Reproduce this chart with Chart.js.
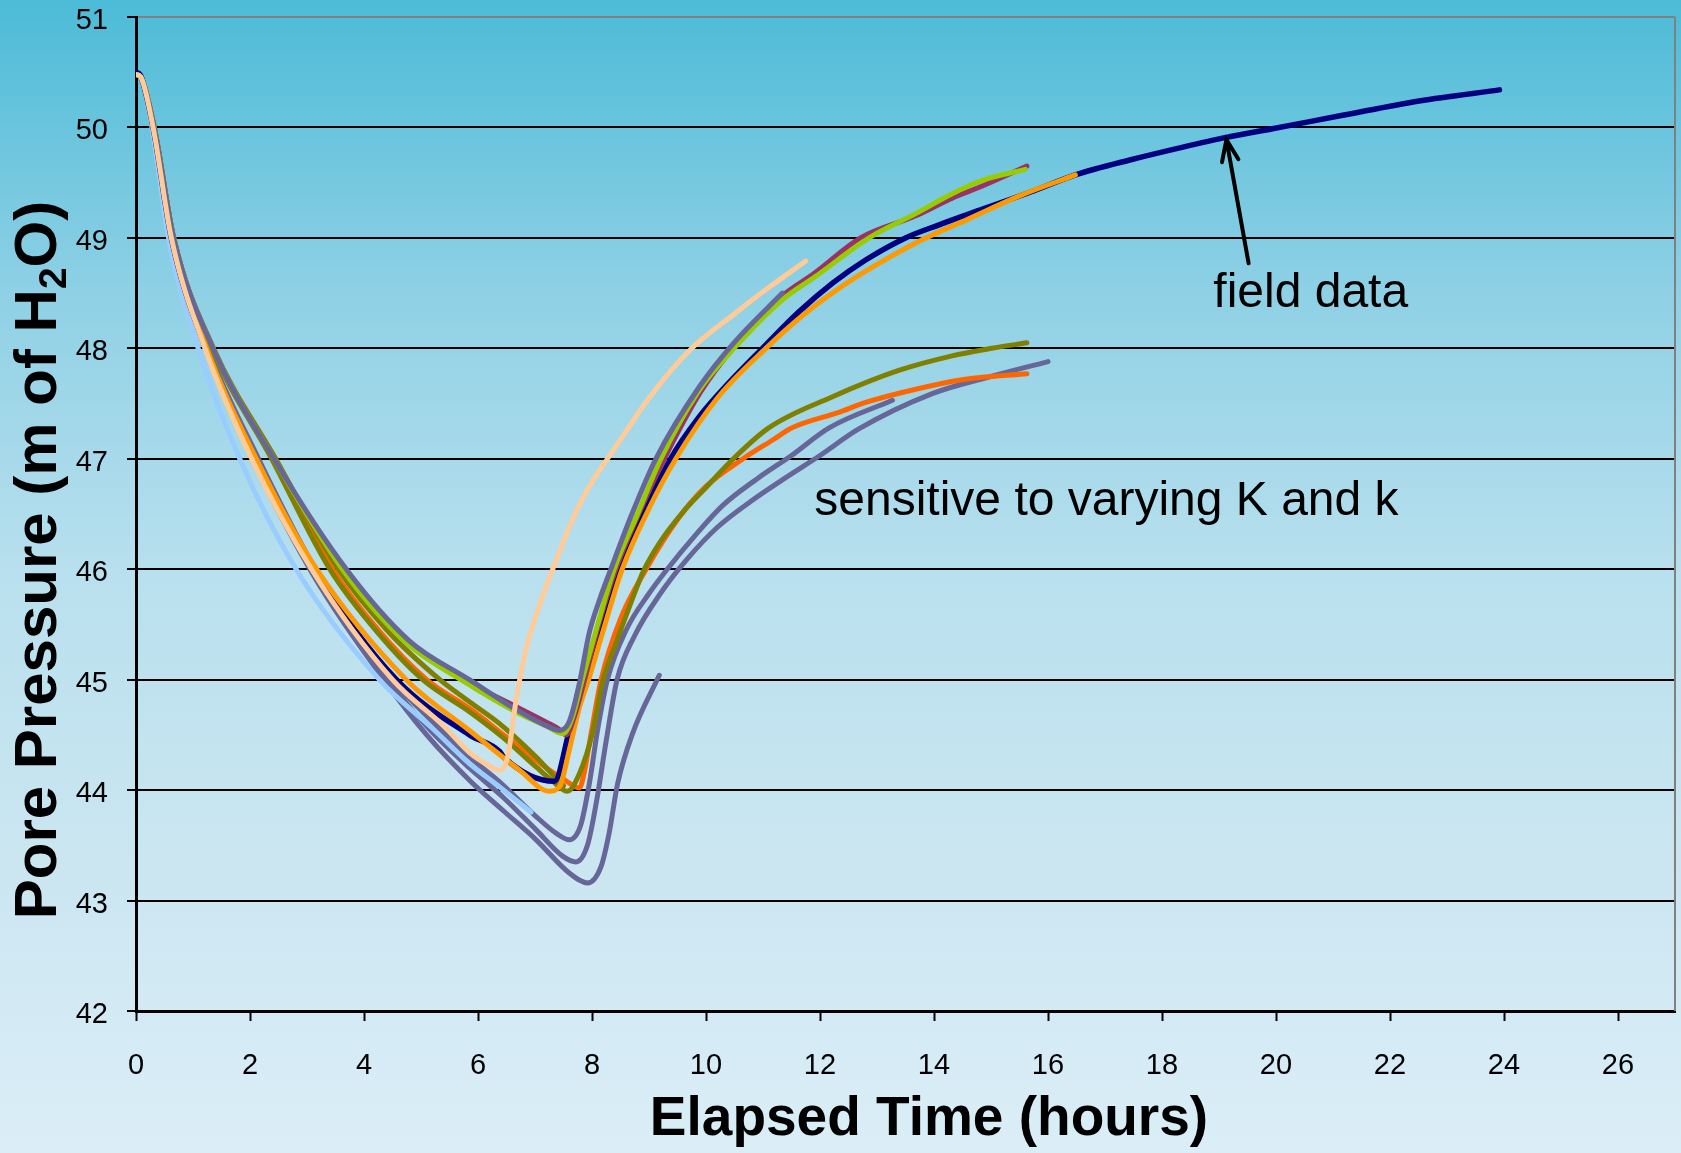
<!DOCTYPE html>
<html>
<head>
<meta charset="utf-8">
<script src="https://cdn.jsdelivr.net/npm/chart.js@4.4.1/dist/chart.umd.min.js"></script>
<style>
  html, body { margin: 0; padding: 0; }
</style>
</head>
<body>
<canvas id="chart" width="1681" height="1153"></canvas>
<script>
// elapsed time (hours) and pore pressure (m of H2O) per curve

// field data
const fieldT = [0, 0.08, 0.3, 0.62, 1.22, 2.08, 3.12, 4.57, 5.85, 6.38, 6.45, 7.34, 7.6, 7.75, 7.9, 8.48, 9.38, 9.88, 10.35, 10.99, 11.63, 12.22, 12.8, 13.5, 14.1, 14.85, 15.72, 16.48, 17.47, 18.35, 19.13, 19.96, 21.17, 22.51, 23.92];
const fieldP = [50.5, 50.47, 50.0, 49.0, 48.0, 47.0, 46.0, 45.0, 44.5, 44.35, 44.3, 44.08, 44.53, 44.8, 45.0, 46.0, 47.0, 47.38, 47.66, 48.0, 48.33, 48.59, 48.8, 49.0, 49.12, 49.26, 49.42, 49.57, 49.71, 49.82, 49.91, 49.99, 50.11, 50.24, 50.34];

// simulated runs
const orangeT = [0, 0.08, 0.31, 0.63, 1.24, 2.11, 3.17, 4.74, 5.85, 6.73, 7.25, 7.43, 7.6, 7.78, 7.94, 8.2, 8.53, 9.0, 9.47, 10.2, 11.05, 11.7, 12.35, 13.0, 13.74, 14.6, 15.5, 16.48];
const orangeP = [50.48, 50.46, 50.0, 49.0, 48.0, 47.0, 46.0, 45.0, 44.54, 44.18, 43.99, 44.03, 44.36, 44.75, 45.0, 45.45, 46.0, 46.55, 47.0, 47.55, 48.0, 48.3, 48.55, 48.76, 48.97, 49.17, 49.38, 49.57];

const peachT = [0, 0.08, 0.3, 0.62, 1.21, 2.03, 3.08, 4.5, 5.4, 5.85, 6.2, 6.38, 6.52, 6.67, 6.84, 7.11, 7.4, 7.7, 8.0, 8.27, 8.6, 9.0, 9.71, 10.52, 11.1, 11.75];
const peachP = [50.48, 50.46, 50.0, 49.0, 48.0, 47.0, 46.0, 45.0, 44.58, 44.34, 44.22, 44.18, 44.3, 44.82, 45.27, 45.72, 46.12, 46.5, 46.79, 47.0, 47.25, 47.55, 47.98, 48.32, 48.55, 48.79];

const skyT = [0, 0.08, 0.28, 0.57, 1.09, 1.82, 2.81, 4.27, 5.2, 5.85, 6.4, 6.93];
const skyP = [50.48, 50.46, 50.0, 49.0, 48.0, 47.0, 46.0, 45.0, 44.56, 44.24, 44.02, 43.8];

const slateUT = [0, 0.08, 0.32, 0.66, 1.35, 2.42, 3.69, 4.8, 5.85, 6.73, 7.25, 7.43, 7.6, 7.78, 7.95, 8.13, 8.33, 8.7, 9.12, 9.88, 10.49, 11.34];
const slateUP = [50.48, 50.46, 50.0, 49.0, 48.0, 47.0, 46.0, 45.35, 45.0, 44.71, 44.57, 44.54, 44.62, 44.97, 45.42, 45.72, 46.0, 46.5, 47.0, 47.65, 48.05, 48.5];

const greenT = [0, 0.08, 0.32, 0.66, 1.35, 2.42, 3.62, 4.75, 5.7, 6.73, 7.2, 7.49, 7.65, 7.83, 8.1, 8.39, 8.8, 9.21, 9.88, 10.49, 11.34, 11.92, 12.86, 13.68, 14.32, 14.85, 15.6];
const greenP = [50.48, 50.46, 50.0, 49.0, 48.0, 47.0, 46.0, 45.33, 45.0, 44.69, 44.58, 44.51, 44.65, 45.0, 45.5, 46.0, 46.5, 47.0, 47.62, 48.0, 48.44, 48.65, 49.0, 49.22, 49.4, 49.52, 49.62];

const maroonT = [0, 0.08, 0.32, 0.66, 1.35, 2.42, 3.62, 4.75, 5.75, 6.73, 7.14, 7.4, 7.55, 7.68, 7.87, 8.12, 8.42, 8.82, 9.27, 9.9, 10.5, 11.3, 11.9, 12.71, 13.68, 14.32, 14.85, 15.63];
const maroonP = [50.48, 50.46, 50.0, 49.0, 48.0, 47.0, 46.0, 45.35, 45.0, 44.74, 44.63, 44.56, 44.5, 44.65, 45.0, 45.5, 46.0, 46.5, 47.0, 47.6, 48.02, 48.46, 48.68, 49.0, 49.2, 49.36, 49.47, 49.65];

const oliveT = [0, 0.08, 0.32, 0.66, 1.33, 2.38, 3.4, 4.2, 5.03, 5.85, 6.43, 7.02, 7.31, 7.57, 7.78, 8.01, 8.18, 8.42, 8.7, 8.9, 9.2, 9.6, 10.0, 10.44, 11.1, 12.21, 13.38, 14.3, 15.01, 15.63];
const oliveP = [50.48, 50.46, 50.0, 49.0, 48.0, 47.0, 46.0, 45.45, 45.0, 44.71, 44.48, 44.21, 44.08, 43.99, 44.15, 44.52, 44.97, 45.33, 45.72, 45.98, 46.25, 46.52, 46.74, 46.98, 47.28, 47.56, 47.8, 47.93, 48.0, 48.05];

const olive2T = [0, 0.08, 0.32, 0.66, 1.36, 2.45, 3.55, 4.4, 5.33, 5.85, 6.43, 7.02, 7.31, 7.5];
const olive2P = [50.48, 50.46, 50.0, 49.0, 48.0, 47.0, 46.0, 45.45, 45.0, 44.8, 44.58, 44.3, 44.14, 44.04];

const redT = [0, 0.08, 0.32, 0.66, 1.34, 2.4, 3.45, 4.25, 5.1, 5.85, 6.5, 7.2, 7.5, 7.78, 7.86, 7.98, 8.16, 8.5, 8.95, 9.5, 10.0, 10.65, 11.17, 11.51, 12.33, 12.8, 13.68, 14.55, 15.63];
const redP = [50.48, 50.46, 50.0, 49.0, 48.0, 47.0, 46.0, 45.45, 45.0, 44.74, 44.48, 44.2, 44.1, 44.02, 44.15, 44.5, 45.0, 45.55, 46.0, 46.45, 46.75, 47.0, 47.17, 47.28, 47.42, 47.51, 47.63, 47.72, 47.77];

const slate1T = [0, 0.08, 0.3, 0.63, 1.26, 2.15, 3.15, 4.5, 5.2, 5.85, 6.43, 7.02, 7.37, 7.6, 7.8, 7.95, 8.1, 8.27, 8.6, 9.0, 9.32, 9.8, 10.3, 10.9, 11.5, 12.16, 13.27];
const slate1P = [50.48, 50.46, 50.0, 49.0, 48.0, 47.0, 46.0, 45.0, 44.62, 44.3, 44.05, 43.76, 43.61, 43.55, 43.68, 44.05, 44.55, 45.0, 45.45, 45.78, 46.0, 46.3, 46.58, 46.82, 47.03, 47.28, 47.53];

const slate2T = [0, 0.08, 0.3, 0.63, 1.25, 2.1, 3.1, 4.42, 5.15, 5.85, 6.43, 7.02, 7.49, 7.72, 7.92, 8.08, 8.25, 8.44, 8.75, 9.2, 9.65, 10.2, 10.8, 11.4, 12.0, 12.68, 13.97, 14.96, 16.0];
const slate2P = [50.48, 50.46, 50.0, 49.0, 48.0, 47.0, 46.0, 45.0, 44.55, 44.2, 43.94, 43.64, 43.4, 43.35, 43.5, 43.9, 44.45, 45.0, 45.4, 45.78, 46.08, 46.38, 46.62, 46.83, 47.03, 47.27, 47.59, 47.74, 47.88];

const slate3T = [0, 0.08, 0.3, 0.63, 1.24, 2.05, 3.05, 4.35, 5.1, 5.85, 6.43, 7.02, 7.6, 7.92, 8.16, 8.3, 8.45, 8.71, 9.18];
const slate3P = [50.48, 50.46, 50.0, 49.0, 48.0, 47.0, 46.0, 45.0, 44.5, 44.09, 43.82, 43.55, 43.25, 43.16, 43.31, 43.61, 44.06, 44.51, 45.04];

// axes
const xMin = 0, xMax = 27, xStep = 2;
const yMin = 42, yMax = 51, yStep = 1;

const xTitle = "Elapsed Time (hours)";
const yTitleParts = ["Pore Pressure (m of H", "2", "O)"];
const fieldLabel = { text: "field data", t: 18.9, p: 48.37 };
const sensLabel = { text: "sensitive to varying K and k", t: 11.9, p: 46.49 };
const arrowFrom = { t: 19.52, p: 48.77 };
const arrowTo = { t: 19.13, p: 49.89 };

const FONT = "'Liberation Sans', Arial, sans-serif";

function pts(t, p) {
  return t.map((x, i) => ({ x: x, y: p[i] }));
}

// first in list is drawn on top
const lines = [
  { t: peachT, p: peachP, color: "#FFCC99", width: 5 },
  { t: slateUT, p: slateUP, color: "#666699", width: 5 },
  { t: greenT, p: greenP, color: "#99CC00", width: 5 },
  { t: maroonT, p: maroonP, color: "#993366", width: 5 },
  { t: orangeT, p: orangeP, color: "#FF9900", width: 5 },
  { t: fieldT, p: fieldP, color: "#000080", width: 5.5 },
  { t: oliveT, p: oliveP, color: "#808000", width: 5 },
  { t: olive2T, p: olive2P, color: "#808000", width: 5 },
  { t: redT, p: redP, color: "#FF6600", width: 5 },
  { t: skyT, p: skyP, color: "#99CCFF", width: 5 },
  { t: slate1T, p: slate1P, color: "#666699", width: 5 },
  { t: slate2T, p: slate2P, color: "#666699", width: 5 },
  { t: slate3T, p: slate3P, color: "#666699", width: 5 },
];

const background = {
  id: "background",
  beforeDraw(chart) {
    const { ctx, width, height } = chart;
    const g = ctx.createLinearGradient(0, 0, 0, height);
    g.addColorStop(0, "#4cbbd7");
    g.addColorStop(0.25, "#8ed0e5");
    g.addColorStop(0.5, "#b9e0ee");
    g.addColorStop(0.75, "#cbe6f1");
    g.addColorStop(1, "#dbeef7");
    ctx.save();
    ctx.fillStyle = g;
    ctx.fillRect(0, 0, width, height);
    ctx.restore();
  },
  beforeDatasetsDraw(chart) {
    const { ctx, chartArea } = chart;
    ctx.save();
    ctx.strokeStyle = "#808080";
    ctx.lineWidth = 2;
    ctx.beginPath();
    ctx.moveTo(chartArea.right, chartArea.top);
    ctx.lineTo(chartArea.right, chartArea.bottom);
    ctx.stroke();
    ctx.restore();
  },
};

const notes = {
  id: "notes",
  afterDraw(chart) {
    const { ctx, chartArea } = chart;
    const x = chart.scales.x, y = chart.scales.y;
    ctx.save();
    ctx.fillStyle = "#000";
    ctx.textBaseline = "alphabetic";
    ctx.textAlign = "left";

    // callouts
    ctx.font = "48px " + FONT;
    ctx.fillText(fieldLabel.text, x.getPixelForValue(fieldLabel.t), y.getPixelForValue(fieldLabel.p));
    ctx.fillText(sensLabel.text, x.getPixelForValue(sensLabel.t), y.getPixelForValue(sensLabel.p));

    // arrow to field data
    const x0 = x.getPixelForValue(arrowFrom.t), y0 = y.getPixelForValue(arrowFrom.p);
    const x1 = x.getPixelForValue(arrowTo.t), y1 = y.getPixelForValue(arrowTo.p);
    const ang = Math.atan2(y0 - y1, x0 - x1);
    const head = 23, spread = 0.37;
    ctx.strokeStyle = "#000";
    ctx.lineWidth = 4;
    ctx.lineCap = "round";
    ctx.beginPath();
    ctx.moveTo(x0, y0);
    ctx.lineTo(x1, y1);
    ctx.moveTo(x1 + head * Math.cos(ang + spread), y1 + head * Math.sin(ang + spread));
    ctx.lineTo(x1, y1);
    ctx.lineTo(x1 + head * Math.cos(ang - spread), y1 + head * Math.sin(ang - spread));
    ctx.stroke();

    // x title
    ctx.font = "bold 55px " + FONT;
    ctx.textAlign = "center";
    ctx.fillText(xTitle, chartArea.left + 793, chartArea.bottom + 124);

    // y title with subscript 2
    const big = "bold 60px " + FONT, small = "bold 39px " + FONT;
    ctx.font = big;
    const w0 = ctx.measureText(yTitleParts[0]).width;
    const w2 = ctx.measureText(yTitleParts[2]).width;
    ctx.font = small;
    const w1 = ctx.measureText(yTitleParts[1]).width;
    const total = w0 + w1 + w2;
    ctx.translate(chartArea.left - 80, chartArea.top + 543);
    ctx.rotate(-Math.PI / 2);
    ctx.textAlign = "left";
    ctx.font = big;
    ctx.fillText(yTitleParts[0], -total / 2, 0);
    ctx.font = small;
    ctx.fillText(yTitleParts[1], -total / 2 + w0, 10);
    ctx.font = big;
    ctx.fillText(yTitleParts[2], -total / 2 + w0 + w1, 0);
    ctx.restore();
  },
};

new Chart(document.getElementById("chart"), {
  type: "line",
  data: {
    datasets: lines.map((s) => ({
      data: pts(s.t, s.p),
      borderColor: s.color,
      borderWidth: s.width,
      pointRadius: 0,
      fill: false,
      cubicInterpolationMode: "monotone",
      borderCapStyle: "round",
      borderJoinStyle: "round",
    })),
  },
  options: {
    responsive: false,
    animation: false,
    layout: { padding: { top: 17, right: 6, left: 0, bottom: 0 } },
    plugins: { legend: { display: false }, tooltip: { enabled: false } },
    scales: {
      x: {
        type: "linear",
        min: xMin,
        max: xMax,
        afterFit(scale) {
          scale.height = 142;
          scale.paddingLeft = 0;
          scale.paddingRight = 0;
        },
        border: { color: "#000", width: 3 },
        grid: { drawOnChartArea: false, drawTicks: true, tickLength: 10, tickColor: "#000", tickWidth: 2 },
        ticks: {
          stepSize: xStep,
          includeBounds: false,
          color: "#000",
          padding: 28,
          maxRotation: 0,
          font: { family: FONT, size: 29 },
        },
      },
      y: {
        min: yMin,
        max: yMax,
        afterFit(scale) {
          scale.width = 136;
          scale.paddingTop = 0;
          scale.paddingBottom = 0;
        },
        border: { color: "#000", width: 3 },
        grid: {
          color: (c) => (c.tick && c.tick.value === yMax ? "#808080" : "#000"),
          lineWidth: 2,
          tickLength: 9,
          tickColor: "#000",
          tickWidth: 2,
        },
        ticks: {
          stepSize: yStep,
          color: "#000",
          padding: 19,
          labelOffset: 4,
          font: { family: FONT, size: 29 },
        },
      },
    },
  },
  plugins: [background, notes],
});
</script>
</body>
</html>
